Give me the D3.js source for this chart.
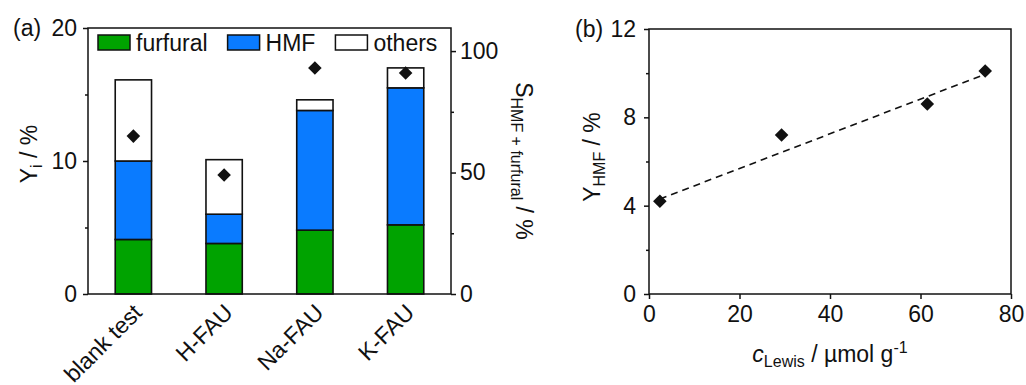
<!DOCTYPE html>
<html>
<head>
<meta charset="utf-8">
<script src="https://cdn.jsdelivr.net/npm/d3@7"></script>
<style>
  body { margin: 0; background: #fff; }
  svg { font-family: "Liberation Sans", Arial, sans-serif; }
</style>
</head>
<body>
<script>
// Panel (a): yields per catalyst (%), stacked
var catalysts = ["blank test", "H-FAU", "Na-FAU", "K-FAU"];
var furfuralYield = [4.1, 3.8, 4.8, 5.2];
var hmfYield = [5.9, 2.2, 9.0, 10.3];
var othersYield = [6.1, 4.1, 0.8, 1.5];
// selectivity HMF + furfural (%), right axis
var selectivity = [65, 49, 93, 91];

// Panel (b): HMF yield vs Lewis acid site concentration
var cLewis = [2.4, 29.3, 61.5, 74.3];
var yHMF = [4.2, 7.2, 8.6, 10.1];
// dashed trend line end points
var fitX = [2.4, 74.3];
var fitY = [4.3, 9.95];

var width = 1026, height = 385;
var ink = "#111";

var svg = d3.select("body").append("svg")
  .attr("width", width)
  .attr("height", height);

// ---------- panel (a) ----------
var pa = { left: 88, right: 451, top: 28, bottom: 294 };

var xA = d3.scaleBand()
  .domain(catalysts)
  .range([pa.left, pa.right])
  .paddingInner(0.6)
  .paddingOuter(0.3);
var yA = d3.scaleLinear().domain([0, 20]).range([pa.bottom, pa.top]);
var yS = d3.scaleLinear().domain([0, 109.5]).range([pa.bottom, pa.top]);

var rows = catalysts.map(function(c, i) {
  return { cat: c, furfural: furfuralYield[i], HMF: hmfYield[i], others: othersYield[i] };
});
var keys = ["furfural", "HMF", "others"];
var colors = { furfural: "#00a300", HMF: "#0a7bff", others: "#ffffff" };
var series = d3.stack().keys(keys)(rows);

svg.append("g")
  .selectAll("g")
  .data(series)
  .join("g")
    .attr("fill", function(d) { return colors[d.key]; })
  .selectAll("rect")
  .data(function(d) { return d; })
  .join("rect")
    .attr("x", function(d) { return xA(d.data.cat); })
    .attr("y", function(d) { return yA(d[1]); })
    .attr("width", xA.bandwidth())
    .attr("height", function(d) { return yA(d[0]) - yA(d[1]); })
    .attr("stroke", ink)
    .attr("stroke-width", 1.6);

// diamonds for selectivity
var diamond = d3.symbol().type(d3.symbolSquare).size(92);
svg.append("g")
  .selectAll("path")
  .data(selectivity)
  .join("path")
    .attr("d", diamond)
    .attr("transform", function(d, i) {
      return "translate(" + (xA(catalysts[i]) + xA.bandwidth() / 2) + "," + yS(d) + ") rotate(45)";
    })
    .attr("fill", ink);

// frame
svg.append("rect")
  .attr("x", pa.left).attr("y", pa.top)
  .attr("width", pa.right - pa.left).attr("height", pa.bottom - pa.top)
  .attr("fill", "none").attr("stroke", ink).attr("stroke-width", 1.5);

function styleAxis(g) {
  g.attr("font-size", 23).attr("font-family", null);
  g.select(".domain").remove();
  g.selectAll("line").attr("stroke", ink).attr("stroke-width", 1.5);
  g.selectAll("text").attr("fill", ink);
}

svg.append("g")
  .attr("transform", "translate(" + pa.left + ",0)")
  .call(d3.axisLeft(yA).tickValues([0, 10, 20]).tickSize(5).tickPadding(6))
  .call(styleAxis);
svg.append("g")
  .attr("transform", "translate(" + pa.left + ",0)")
  .call(d3.axisLeft(yA).tickValues([5, 15]).tickSize(3).tickFormat(""))
  .call(styleAxis);

svg.append("g")
  .attr("transform", "translate(" + pa.right + ",0)")
  .call(d3.axisRight(yS).tickValues([0, 50, 100]).tickSize(5).tickPadding(4))
  .call(styleAxis);
svg.append("g")
  .attr("transform", "translate(" + pa.right + ",0)")
  .call(d3.axisRight(yS).tickValues([25, 75]).tickSize(3).tickFormat(""))
  .call(styleAxis);

// rotated category labels (the first one runs off the bottom, as in the original)
svg.append("g")
  .selectAll("text")
  .data(catalysts)
  .join("text")
    .attr("transform", function(d) {
      return "translate(" + (xA(d) + xA.bandwidth() / 2 + 10) + ",314) rotate(-45)";
    })
    .attr("text-anchor", "end")
    .attr("font-size", 23)
    .attr("fill", ink)
    .text(function(d) { return d; });

// legend
var legend = svg.append("g").attr("font-size", 23).attr("fill", ink);
var lx = 98;
keys.forEach(function(k) {
  legend.append("rect")
    .attr("x", lx).attr("y", 35).attr("width", 32).attr("height", 15)
    .attr("fill", colors[k]).attr("stroke", ink).attr("stroke-width", 1.5);
  var t = legend.append("text").attr("x", lx + 38).attr("y", 51).text(k);
  lx += 38 + t.node().getComputedTextLength() + 20;
});

svg.append("text").attr("x", 13).attr("y", 36).attr("font-size", 23).attr("fill", ink).text("(a)");

// left axis title
var ta = svg.append("text")
  .attr("transform", "translate(37,154) rotate(-90)")
  .attr("text-anchor", "middle").attr("font-size", 23).attr("fill", ink);
ta.append("tspan").text("Y");
ta.append("tspan").attr("font-size", 16).attr("dy", 5).text("i");
ta.append("tspan").attr("dy", -5).text(" / %");

// right axis title
var tr = svg.append("text")
  .attr("transform", "translate(516,161) rotate(90)")
  .attr("text-anchor", "middle").attr("font-size", 23).attr("fill", ink);
tr.append("tspan").text("S");
tr.append("tspan").attr("font-size", 16).attr("dy", 5).text("HMF + furfural");
tr.append("tspan").attr("dy", -5).text(" / %");

// ---------- panel (b) ----------
var pb = { left: 649, right: 1011, top: 29, bottom: 294 };
var xB = d3.scaleLinear().domain([0, 80]).range([pb.left, pb.right]);
var yB = d3.scaleLinear().domain([0, 12]).range([pb.bottom, pb.top]);

svg.append("rect")
  .attr("x", pb.left).attr("y", pb.top)
  .attr("width", pb.right - pb.left).attr("height", pb.bottom - pb.top)
  .attr("fill", "none").attr("stroke", ink).attr("stroke-width", 1.5);

svg.append("g")
  .attr("transform", "translate(" + pb.left + ",0)")
  .call(d3.axisLeft(yB).tickValues([0, 4, 8, 12]).tickSize(5).tickPadding(8))
  .call(styleAxis);
svg.append("g")
  .attr("transform", "translate(" + pb.left + ",0)")
  .call(d3.axisLeft(yB).tickValues([2, 6, 10]).tickSize(3).tickFormat(""))
  .call(styleAxis);
svg.append("g")
  .attr("transform", "translate(0," + pb.bottom + ")")
  .call(d3.axisBottom(xB).tickValues([0, 20, 40, 60, 80]).tickSize(5).tickPadding(7))
  .call(styleAxis);

var fit = fitX.map(function(v, i) { return [v, fitY[i]]; });
svg.append("path")
  .datum(fit)
  .attr("d", d3.line().x(function(d) { return xB(d[0]); }).y(function(d) { return yB(d[1]); }))
  .attr("fill", "none").attr("stroke", ink).attr("stroke-width", 1.6)
  .attr("stroke-dasharray", "7,5");

svg.append("g")
  .selectAll("path")
  .data(cLewis)
  .join("path")
    .attr("d", diamond)
    .attr("transform", function(d, i) {
      return "translate(" + xB(d) + "," + yB(yHMF[i]) + ") rotate(45)";
    })
    .attr("fill", ink);

svg.append("text").attr("x", 575).attr("y", 37).attr("font-size", 23).attr("fill", ink).text("(b)");

var tb = svg.append("text")
  .attr("transform", "translate(600,157) rotate(-90)")
  .attr("text-anchor", "middle").attr("font-size", 23).attr("fill", ink);
tb.append("tspan").text("Y");
tb.append("tspan").attr("font-size", 16).attr("dy", 5).text("HMF");
tb.append("tspan").attr("dy", -5).text(" / %");

var tx = svg.append("text")
  .attr("x", 830).attr("y", 362)
  .attr("text-anchor", "middle").attr("font-size", 23).attr("fill", ink);
tx.append("tspan").attr("font-style", "italic").text("c");
tx.append("tspan").attr("font-size", 16).attr("dy", 5).text("Lewis");
tx.append("tspan").attr("dy", -5).text(" / \u00b5mol g");
tx.append("tspan").attr("font-size", 16).attr("dy", -9).text("-1");
</script>
</body>
</html>
